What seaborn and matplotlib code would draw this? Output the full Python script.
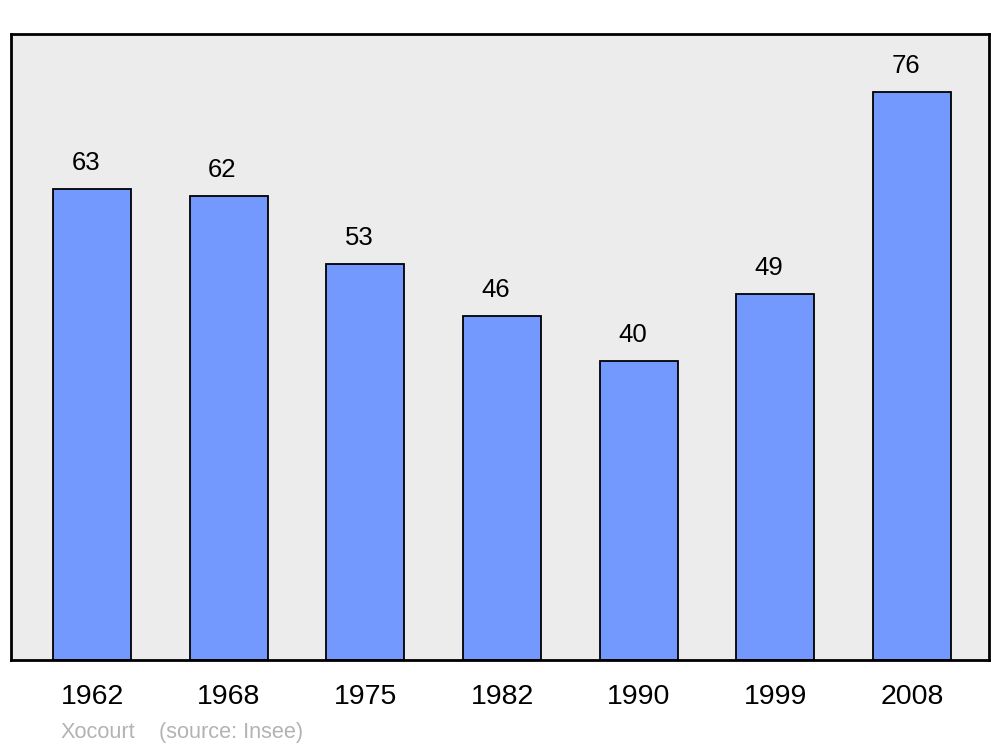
import pandas as pd
import matplotlib.pyplot as plt
import seaborn as sns

# Données de population
years = ["1962", "1968", "1975", "1982", "1990", "1999", "2008"]
population = [63, 62, 53, 46, 40, 49, 76]
commune = "Xocourt"
source = "(source: Insee)"

df = pd.DataFrame({"year": years, "population": population})

sns.set_style("white")
plt.rcParams["font.family"] = ["Liberation Sans", "DejaVu Sans"]
plt.rcParams["text.color"] = "black"
plt.rcParams["xtick.color"] = "black"

fig = plt.figure(figsize=(10, 7.47), dpi=100)
ax = fig.add_axes([0.011, 0.1165, 0.978, 0.838])
ax.set_facecolor("#ececec")

sns.barplot(data=df, x="year", y="population", color="#7399ff", saturation=1,
            width=0.57, edgecolor="black", linewidth=1.3, ax=ax)

# Valeurs au-dessus des barres
for i, v in enumerate(population):
    ax.annotate(str(v), (i, v), xytext=(-4.5, 10), textcoords="offset points",
                ha="center", va="bottom", fontsize=18.5, color="black")

ax.set_xlim(-0.593, 6.563)
ax.set_ylim(0, 83.7)
ax.set_yticks([])
ax.set_xlabel("")
ax.set_ylabel("")
ax.tick_params(axis="x", length=0, pad=17, labelsize=20.5, labelcolor="black")
for s in ax.spines.values():
    s.set_color("black")
    s.set_linewidth(2)

fig.text(0.061, 0.0188, commune, color="#b3b3b3", fontsize=15.7, va="center")
fig.text(0.159, 0.0188, source, color="#b3b3b3", fontsize=15.7, va="center")

plt.savefig("out.png", dpi=100)
